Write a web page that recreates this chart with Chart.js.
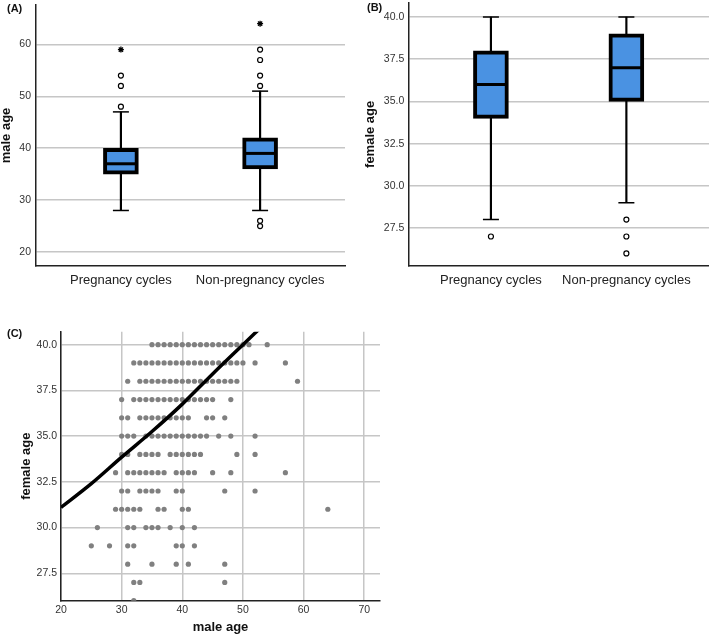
<!DOCTYPE html>
<html>
<head>
<meta charset="utf-8">
<script src="https://cdn.jsdelivr.net/npm/chart.js@4/dist/chart.umd.min.js"></script>
<style>
  html, body { margin: 0; padding: 0; background: #fff; }
  body { position: relative; width: 709px; height: 635px; overflow: hidden;
         font-family: "Liberation Sans", Arial, sans-serif; }
  .panel { position: absolute; }
  .panel canvas { display: block; }
  .lbl { position: absolute; font-weight: bold; font-size: 11px; line-height: 11px; color: #111; }
</style>
</head>
<body>
<div class="panel" style="left:0;top:0;width:355px;height:300px"><canvas id="cA" width="355" height="300" style="width:355px;height:300px"></canvas></div>
<div class="panel" style="left:355px;top:0;width:354px;height:300px"><canvas id="cB" width="354" height="300" style="width:354px;height:300px"></canvas></div>
<div class="panel" style="left:0;top:300px;width:400px;height:335px"><canvas id="cC" width="400" height="335" style="width:400px;height:335px"></canvas></div>
<div class="lbl" style="left:7px;top:3px">(A)</div>
<div class="lbl" style="left:367px;top:2px">(B)</div>
<div class="lbl" style="left:7px;top:328px">(C)</div>

<script>
// ================= DATA =================
const groupLabels = ['Pregnancy cycles', 'Non-pregnancy cycles'];
const groupX = [1, 2];

// (A) male age box plot
const maleWhiskerLow  = [28, 28];
const maleQ1          = [35, 36];
const maleMedian      = [37, 39];
const maleQ3          = [40, 42];
const maleWhiskerHigh = [47, 51];
const maleOutlierGroup = [1, 1, 1, 2, 2, 2, 2, 2, 2];
const maleOutlierValue = [48, 52, 54, 52, 54, 57, 59, 26, 25];
const maleExtremeGroup = [1, 2];
const maleExtremeValue = [59, 64];
const maleTicks = [20, 30, 40, 50, 60];

// (B) female age box plot
const femaleWhiskerLow  = [28, 29];
const femaleQ1          = [34, 35];
const femaleMedian      = [36, 37];
const femaleQ3          = [38, 39];
const femaleWhiskerHigh = [40, 40];
const femaleOutlierGroup = [1, 2, 2, 2];
const femaleOutlierValue = [27, 28, 27, 26];
const femaleTicks = [27.5, 30, 32.5, 35, 37.5, 40];

// (C) scatter: female age rows and the male ages observed in each row
const scatterFemaleAge = [40, 39, 38, 37, 36, 35, 34, 33, 32, 31, 30, 29, 28, 27, 26];
const scatterMaleAges = [
  [35, 36, 37, 38, 39, 40, 41, 42, 43, 44, 45, 46, 47, 48, 49, 50, 51, 54],
  [32, 33, 34, 35, 36, 37, 38, 39, 40, 41, 42, 43, 44, 45, 46, 47, 48, 49, 50, 52, 57],
  [31, 33, 34, 35, 36, 37, 38, 39, 40, 41, 42, 43, 44, 45, 46, 47, 48, 49, 59],
  [30, 32, 33, 34, 35, 36, 37, 38, 39, 40, 41, 42, 43, 44, 45, 48],
  [30, 31, 33, 34, 35, 36, 37, 38, 39, 40, 41, 44, 45, 47],
  [30, 31, 32, 34, 35, 36, 37, 38, 39, 40, 41, 42, 43, 44, 46, 48, 52],
  [30, 31, 33, 34, 35, 36, 38, 39, 40, 41, 42, 43, 49, 52],
  [29, 31, 32, 33, 34, 35, 36, 37, 39, 40, 41, 42, 45, 48, 57],
  [30, 31, 33, 34, 35, 36, 39, 40, 47, 52],
  [29, 30, 31, 32, 33, 36, 37, 40, 41, 64],
  [26, 31, 32, 34, 35, 36, 38, 40, 42],
  [25, 28, 31, 32, 39, 40, 42],
  [31, 35, 39, 41, 47],
  [32, 33, 47],
  [32]
];
// fitted curve
const fitMaleAge   = [20, 25, 30, 35, 40, 45, 50, 53];
const fitFemaleAge = [31.1, 32.4, 33.85, 35.25, 36.75, 38.4, 40.0, 40.95];
const scatterXTicks = [20, 30, 40, 50, 60, 70];
const scatterYTicks = [27.5, 30, 32.5, 35, 37.5, 40];

// ================= STYLE =================
const FONT = "'Liberation Sans', Arial, Helvetica, sans-serif";
Chart.defaults.font.family = FONT;
Chart.defaults.color = '#333';
Chart.defaults.animation = false;
const BOX_BLUE = '#4a92e2';
const GRID = '#c6c6c6';
const AXIS = '#222';

function fixedTicks(values) {
  return s => { s.ticks = values.map(v => ({ value: v })); };
}
function fitX(h) {
  return s => { s.height = h; s.paddingLeft = 0; s.paddingRight = 0; s.paddingTop = 0; s.paddingBottom = 0; };
}
function fitY(w) {
  return s => { s.width = w; s.paddingLeft = 0; s.paddingRight = 0; s.paddingTop = 0; s.paddingBottom = 0; };
}

function boxDatasets(lo, q1, med, q3, hi, outG, outV, extG, extV) {
  const ds = [];
  ds.push({ type: 'bar', data: groupX.map((x, i) => ({ x: x, y: [lo[i], hi[i]] })),
    backgroundColor: '#000', borderWidth: 0, barThickness: 1.5, grouped: false, order: 6 });
  ds.push({ type: 'line', showLine: false,
    data: groupX.flatMap((x, i) => [{ x: x, y: lo[i] }, { x: x, y: hi[i] }]),
    pointStyle: 'line', pointRadius: 8, pointBorderWidth: 1.5, pointBorderColor: '#000', order: 5 });
  ds.push({ type: 'bar', data: groupX.map((x, i) => ({ x: x, y: [q1[i], q3[i]] })),
    backgroundColor: BOX_BLUE, borderColor: '#000', borderWidth: 4, borderSkipped: false,
    barThickness: 35, grouped: false, order: 4 });
  ds.push({ type: 'line', showLine: false, data: groupX.map((x, i) => ({ x: x, y: med[i] })),
    pointStyle: 'line', pointRadius: 15, pointBorderWidth: 3, pointBorderColor: '#000', order: 3 });
  ds.push({ type: 'line', showLine: false, data: outG.map((g, i) => ({ x: g, y: outV[i] })),
    pointStyle: 'circle', pointRadius: 2.5, pointBackgroundColor: '#fff',
    pointBorderColor: '#000', pointBorderWidth: 1.2, order: 2 });
  if (extG) {
    ds.push({ type: 'line', showLine: false, data: extG.map((g, i) => ({ x: g, y: extV[i] })),
      pointStyle: 'star', pointRadius: 3, pointBorderColor: '#000', pointBorderWidth: 1.3, order: 1 });
  }
  return ds;
}

function boxOptions(cfg) {
  return {
    responsive: false, devicePixelRatio: 1, animation: false, events: [],
    layout: { padding: cfg.padding, autoPadding: false },
    plugins: { legend: { display: false }, tooltip: { enabled: false } },
    scales: {
      x: {
        type: 'linear', min: 0.39, max: 2.61, offset: false,
        afterBuildTicks: fixedTicks(groupX),
        afterFit: fitX(cfg.xHeight),
        ticks: { callback: v => groupLabels[groupX.indexOf(v)], font: { size: 13 }, color: '#222',
                 padding: 7, maxRotation: 0, autoSkip: false },
        grid: { display: false, drawTicks: false, offset: false },
        border: { display: true, color: AXIS, width: 1.5 }
      },
      y: {
        min: cfg.yMin, max: cfg.yMax,
        afterBuildTicks: fixedTicks(cfg.ticks),
        afterFit: fitY(cfg.yWidth),
        ticks: { callback: cfg.fmt, font: { size: 10.5 }, color: '#333', padding: cfg.tickPad },
        grid: { color: GRID, lineWidth: 1.5, drawTicks: false },
        border: { display: true, color: AXIS, width: 1.5 },
        title: { display: true, text: cfg.title, color: '#111',
                 font: { size: 13, weight: 'bold' }, padding: { top: cfg.titlePad, bottom: 0 } }
      }
    }
  };
}

// ---------- (A) ----------
new Chart(document.getElementById('cA'), {
  type: 'bar',
  data: { datasets: boxDatasets(maleWhiskerLow, maleQ1, maleMedian, maleQ3, maleWhiskerHigh,
                                maleOutlierGroup, maleOutlierValue, maleExtremeGroup, maleExtremeValue) },
  options: boxOptions({ padding: { left: 0, top: 5, right: 10, bottom: 0 }, xHeight: 34, yWidth: 36,
    yMin: 17.3, yMax: 67.6, ticks: maleTicks, fmt: v => String(v), tickPad: 5,
    title: 'male age', titlePad: -1 })
});

// ---------- (B) ----------
new Chart(document.getElementById('cB'), {
  type: 'bar',
  data: { datasets: boxDatasets(femaleWhiskerLow, femaleQ1, femaleMedian, femaleQ3, femaleWhiskerHigh,
                                femaleOutlierGroup, femaleOutlierValue, null, null) },
  options: boxOptions({ padding: { left: 0, top: 3, right: 0, bottom: 0 }, xHeight: 34.3, yWidth: 53.3,
    yMin: 25.27, yMax: 40.83, ticks: femaleTicks, fmt: v => v.toFixed(1), tickPad: 4,
    title: 'female age', titlePad: 8 })
});

// ---------- (C) ----------
const scatterPoints = scatterFemaleAge.flatMap((fa, r) => scatterMaleAges[r].map(m => ({ x: m, y: fa })));
const fitPoints = fitMaleAge.map((m, i) => ({ x: m, y: fitFemaleAge[i] }));

new Chart(document.getElementById('cC'), {
  type: 'scatter',
  data: {
    datasets: [
      { type: 'line', data: fitPoints, showLine: true, borderColor: '#000', borderWidth: 3.5,
        pointRadius: 0, cubicInterpolationMode: 'monotone', fill: false, order: 1 },
      { data: scatterPoints, pointRadius: 2.6, pointBackgroundColor: '#808080',
        pointBorderWidth: 0, pointBorderColor: '#808080', order: 2 }
    ]
  },
  options: {
    responsive: false, devicePixelRatio: 1, animation: false, events: [],
    layout: { padding: { left: 0, top: 31.7, right: 20, bottom: 0 }, autoPadding: false },
    plugins: { legend: { display: false }, tooltip: { enabled: false } },
    scales: {
      x: {
        type: 'linear', min: 20, max: 72.6,
        afterBuildTicks: fixedTicks(scatterXTicks),
        afterFit: fitX(34.3),
        ticks: { callback: v => String(v), font: { size: 10.5 }, color: '#333', padding: 3, maxRotation: 0 },
        grid: { color: GRID, lineWidth: 1.5, drawTicks: false },
        border: { display: true, color: AXIS, width: 1.5 },
        title: { display: true, text: 'male age', color: '#111',
                 font: { size: 13, weight: 'bold' }, padding: { top: 0, bottom: 0 } }
      },
      y: {
        type: 'linear', min: 26, max: 40.71,
        afterBuildTicks: fixedTicks(scatterYTicks),
        afterFit: fitY(61),
        ticks: { callback: v => v.toFixed(1), font: { size: 10.5 }, color: '#333', padding: 4 },
        grid: { color: GRID, lineWidth: 1.5, drawTicks: false },
        border: { display: true, color: AXIS, width: 1.5 },
        title: { display: true, text: 'female age', color: '#111',
                 font: { size: 13, weight: 'bold' }, padding: { top: 19, bottom: 0 } }
      }
    }
  }
});
</script>
</body>
</html>
